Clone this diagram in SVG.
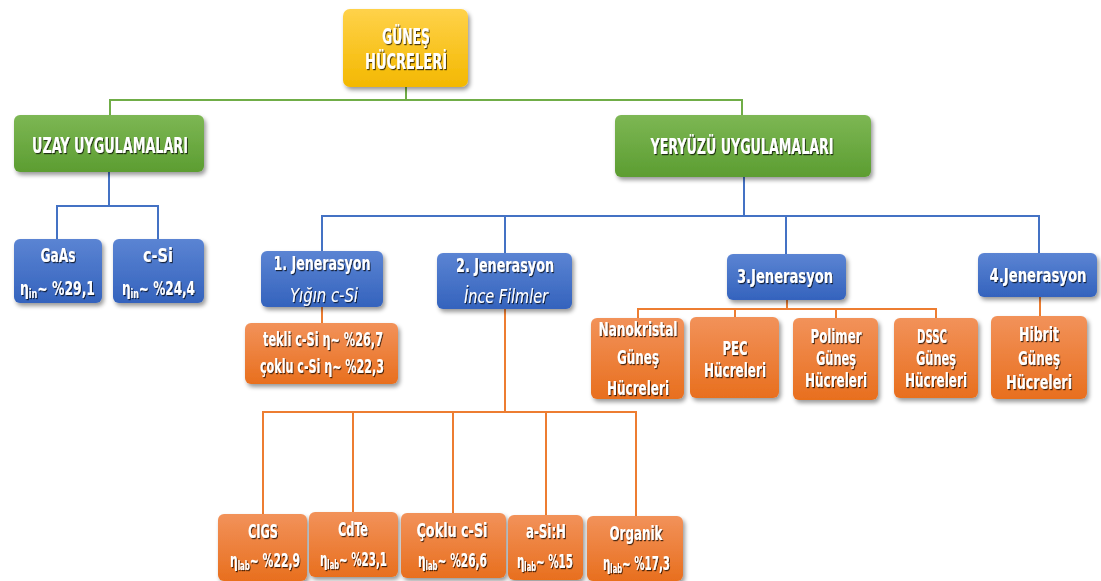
<svg xmlns="http://www.w3.org/2000/svg" width="1101" height="581" viewBox="0 0 1101 581">
<defs>
<linearGradient id="gY" x1="0" y1="0" x2="0" y2="1"><stop offset="0" stop-color="#FFD24A"/><stop offset="1" stop-color="#F3B800"/></linearGradient>
<linearGradient id="gG" x1="0" y1="0" x2="0" y2="1"><stop offset="0" stop-color="#7DB754"/><stop offset="1" stop-color="#5C9D31"/></linearGradient>
<linearGradient id="gB" x1="0" y1="0" x2="0" y2="1"><stop offset="0" stop-color="#5B84D3"/><stop offset="1" stop-color="#3463BD"/></linearGradient>
<linearGradient id="gO" x1="0" y1="0" x2="0" y2="1"><stop offset="0" stop-color="#F2925A"/><stop offset="1" stop-color="#E86F1E"/></linearGradient>
<filter id="bs" x="-10%" y="-10%" width="130%" height="140%"><feDropShadow dx="2" dy="3" stdDeviation="2.2" flood-color="#000" flood-opacity="0.4"/></filter>
<filter id="ts" x="-10%" y="-30%" width="130%" height="160%"><feDropShadow dx="1" dy="1.2" stdDeviation="0.7" flood-color="#000" flood-opacity="0.7"/></filter>
</defs>
<style>
.y{fill:url(#gY);filter:url(#bs)}
.g{fill:url(#gG);filter:url(#bs)}
.b{fill:url(#gB);filter:url(#bs)}
.o{fill:url(#gO);filter:url(#bs)}
text{font-family:"DejaVu Sans Condensed","Liberation Sans Narrow","Liberation Sans",sans-serif;font-stretch:condensed;font-weight:bold;fill:#fff;filter:url(#ts);font-size:20px}
.t20{font-size:22px}
.it{font-style:italic;font-weight:normal}
.lg{fill:none;stroke:#70AD47;stroke-width:2}
.lb{fill:none;stroke:#4472C4;stroke-width:2}
.lo{fill:none;stroke:#ED7D31;stroke-width:2}
</style>
<g id="connectors">
<path class="lg" d="M406,87V100M110,115V100H742V115"/>
<path class="lb" d="M109,172V206M57,239V206H158V239"/>
<path class="lb" d="M744,177V216M322,251V216H1039V253M505,216V253M786,216V254"/>
<path class="lo" d="M322,307V323"/>
<path class="lo" d="M505,309V412M263,514V412H636V516M353,412V512M453,412V513M546,412V515"/>
<path class="lo" d="M787,300V309M638,318V309H936V318M735,309V317M836,309V318"/>
<path class="lo" d="M1040,297V316"/>
</g>
<g id="root"><rect class="y" x="343" y="9" width="125" height="78" rx="7"/>
<text class="t20" x="406" y="44" text-anchor="middle" textLength="48" lengthAdjust="spacingAndGlyphs">GÜNEŞ</text>
<text class="t20" x="406" y="69" text-anchor="middle" textLength="82" lengthAdjust="spacingAndGlyphs">HÜCRELERİ</text></g>
<g id="uzay"><rect class="g" x="14" y="115" width="190" height="57" rx="6"/>
<text class="t20" x="110" y="153" text-anchor="middle" textLength="156" lengthAdjust="spacingAndGlyphs">UZAY UYGULAMALARI</text></g>
<g id="yeryuzu"><rect class="g" x="615" y="115" width="256" height="62" rx="6"/>
<text class="t20" x="742" y="154" text-anchor="middle" textLength="183" lengthAdjust="spacingAndGlyphs">YERYÜZÜ UYGULAMALARI</text></g>
<g id="gaas"><rect class="b" x="14" y="239" width="88" height="64" rx="6"/>
<text x="58" y="262" text-anchor="middle" textLength="35" lengthAdjust="spacingAndGlyphs">GaAs</text>
<text x="20" y="295" textLength="75" lengthAdjust="spacingAndGlyphs">η<tspan font-size="13" dy="3">in</tspan><tspan dy="-3">~ %29,1</tspan></text></g>
<g id="csi"><rect class="b" x="113" y="239" width="91" height="64" rx="6"/>
<text x="158" y="262" text-anchor="middle" textLength="30" lengthAdjust="spacingAndGlyphs">c-Si</text>
<text x="122" y="295" textLength="73" lengthAdjust="spacingAndGlyphs">η<tspan font-size="13" dy="3">in</tspan><tspan dy="-3">~ %24,4</tspan></text></g>
<g id="jen1"><rect class="b" x="261" y="251" width="122" height="56" rx="6"/>
<text x="322" y="270" text-anchor="middle" textLength="97" lengthAdjust="spacingAndGlyphs">1. Jenerasyon</text>
<text class="it" x="324" y="302" text-anchor="middle" textLength="68" lengthAdjust="spacingAndGlyphs">Yığın c-Si</text></g>
<g id="jen2"><rect class="b" x="437" y="253" width="135" height="56" rx="6"/>
<text x="505" y="272" text-anchor="middle" textLength="98" lengthAdjust="spacingAndGlyphs">2. Jenerasyon</text>
<text class="it" x="506" y="303" text-anchor="middle" textLength="84" lengthAdjust="spacingAndGlyphs">İnce Filmler</text></g>
<g id="jen3"><rect class="b" x="727" y="254" width="119" height="46" rx="6"/>
<text x="785" y="283" text-anchor="middle" textLength="96" lengthAdjust="spacingAndGlyphs">3.Jenerasyon</text></g>
<g id="jen4"><rect class="b" x="978" y="253" width="119" height="44" rx="6"/>
<text x="1038" y="282" text-anchor="middle" textLength="97" lengthAdjust="spacingAndGlyphs">4.Jenerasyon</text></g>
<g id="yigin"><rect class="o" x="245" y="323" width="153" height="61" rx="6"/>
<text x="323" y="346" text-anchor="middle" textLength="120" lengthAdjust="spacingAndGlyphs">tekli c-Si η~ %26,7</text>
<text x="322" y="373" text-anchor="middle" textLength="124" lengthAdjust="spacingAndGlyphs">çoklu c-Si η~ %22,3</text></g>
<g id="nano"><rect class="o" x="591" y="318" width="93" height="81" rx="6"/>
<text x="638" y="336" text-anchor="middle" textLength="79" lengthAdjust="spacingAndGlyphs">Nanokristal</text>
<text x="638" y="364" text-anchor="middle" textLength="42" lengthAdjust="spacingAndGlyphs">Güneş</text>
<text x="638" y="395" text-anchor="middle" textLength="62" lengthAdjust="spacingAndGlyphs">Hücreleri</text></g>
<g id="pec"><rect class="o" x="690" y="317" width="89" height="81" rx="6"/>
<text x="735" y="355" text-anchor="middle" textLength="25" lengthAdjust="spacingAndGlyphs">PEC</text>
<text x="735" y="377" text-anchor="middle" textLength="62" lengthAdjust="spacingAndGlyphs">Hücreleri</text></g>
<g id="polimer"><rect class="o" x="793" y="318" width="85" height="82" rx="6"/>
<text x="836" y="343" text-anchor="middle" textLength="51" lengthAdjust="spacingAndGlyphs">Polimer</text>
<text x="836" y="365" text-anchor="middle" textLength="40" lengthAdjust="spacingAndGlyphs">Güneş</text>
<text x="836" y="387" text-anchor="middle" textLength="62" lengthAdjust="spacingAndGlyphs">Hücreleri</text></g>
<g id="dssc"><rect class="o" x="894" y="318" width="84" height="80" rx="6"/>
<text x="932" y="343" text-anchor="middle" textLength="30" lengthAdjust="spacingAndGlyphs">DSSC</text>
<text x="936" y="365" text-anchor="middle" textLength="40" lengthAdjust="spacingAndGlyphs">Güneş</text>
<text x="936" y="387" text-anchor="middle" textLength="62" lengthAdjust="spacingAndGlyphs">Hücreleri</text></g>
<g id="hibrit"><rect class="o" x="991" y="316" width="96" height="83" rx="6"/>
<text x="1039" y="341" text-anchor="middle" textLength="40" lengthAdjust="spacingAndGlyphs">Hibrit</text>
<text x="1039" y="365" text-anchor="middle" textLength="42" lengthAdjust="spacingAndGlyphs">Güneş</text>
<text x="1039" y="389" text-anchor="middle" textLength="66" lengthAdjust="spacingAndGlyphs">Hücreleri</text></g>
<g id="cigs"><rect class="o" x="218" y="514" width="89" height="67" rx="6"/>
<text x="263" y="538" text-anchor="middle" textLength="30" lengthAdjust="spacingAndGlyphs">CIGS</text>
<text x="230" y="567" textLength="70" lengthAdjust="spacingAndGlyphs">η<tspan font-size="13" dy="3">lab</tspan><tspan dy="-3">~ %22,9</tspan></text></g>
<g id="cdte"><rect class="o" x="309" y="512" width="89" height="65" rx="6"/>
<text x="353" y="536" text-anchor="middle" textLength="30" lengthAdjust="spacingAndGlyphs">CdTe</text>
<text x="320" y="566" textLength="67" lengthAdjust="spacingAndGlyphs">η<tspan font-size="13" dy="3">lab</tspan><tspan dy="-3">~ %23,1</tspan></text></g>
<g id="coklu"><rect class="o" x="401" y="513" width="105" height="65" rx="6"/>
<text x="452" y="537" text-anchor="middle" textLength="71" lengthAdjust="spacingAndGlyphs">Çoklu c-Si</text>
<text x="418" y="567" textLength="69" lengthAdjust="spacingAndGlyphs">η<tspan font-size="13" dy="3">lab</tspan><tspan dy="-3">~ %26,6</tspan></text></g>
<g id="asih"><rect class="o" x="508" y="515" width="75" height="65" rx="6"/>
<text x="546" y="538" text-anchor="middle" textLength="40" lengthAdjust="spacingAndGlyphs">a-Si:H</text>
<text x="517" y="568" textLength="56" lengthAdjust="spacingAndGlyphs">η<tspan font-size="13" dy="3">lab</tspan><tspan dy="-3">~ %15</tspan></text></g>
<g id="organik"><rect class="o" x="587" y="516" width="96" height="65" rx="6"/>
<text x="636" y="540" text-anchor="middle" textLength="53" lengthAdjust="spacingAndGlyphs">Organik</text>
<text x="603" y="570" textLength="67" lengthAdjust="spacingAndGlyphs">η<tspan font-size="13" dy="3">lab</tspan><tspan dy="-3">~ %17,3</tspan></text></g>
</svg>
